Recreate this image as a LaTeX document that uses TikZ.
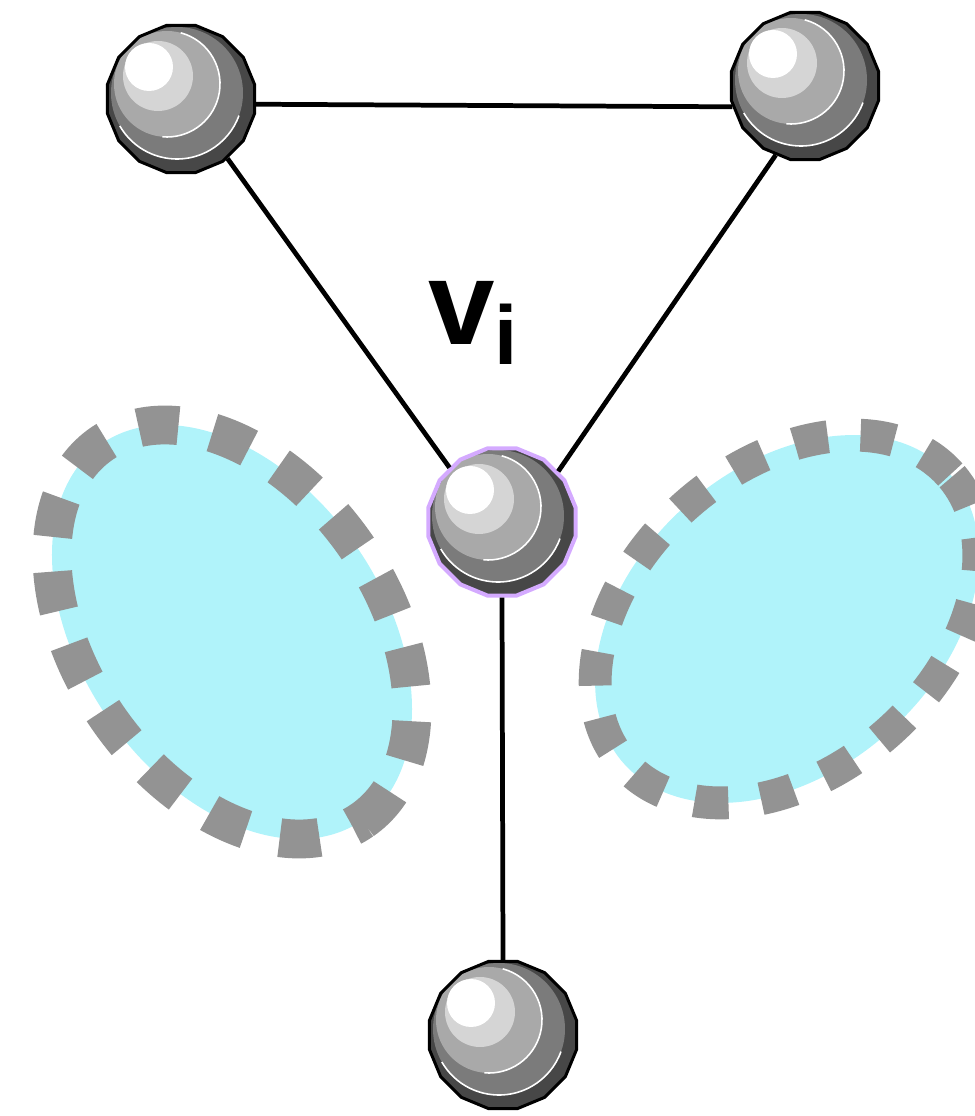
\documentclass[tikz,border=0pt]{standalone}
\usepackage{fontspec}
\setsansfont{Liberation Sans}
\usepackage{tikz}
\usetikzlibrary{shapes.geometric}

\definecolor{pocketfill}{RGB}{176,243,250}
\definecolor{pocketgray}{RGB}{147,147,147}
\definecolor{ringlilac}{RGB}{212,170,255}
\definecolor{shadeA}{RGB}{71,71,71}
\definecolor{shadeB}{RGB}{123,123,123}
\definecolor{shadeC}{RGB}{169,169,169}
\definecolor{shadeD}{RGB}{213,213,213}

\begin{document}
\begin{tikzpicture}[x=0.02cm, y=0.02cm]
        \tikzstyle{ball} = [regular polygon, regular polygon sides=16, minimum size=3cm, inner sep=0pt,
            draw=black, line width=1.7pt, fill=shadeA,
            path picture={
              \begin{scope}[shift={(path picture bounding box.center)}]
                \fill[shadeB] (-4,6) circle [radius=66];
                \draw[white, line width=0.9pt] ([shift={(-150:66)}]-4,6) arc [start angle=-150, end angle=-20, radius=66];
                \fill[shadeC] (-14,15) circle [radius=53];
                \draw[white, line width=0.9pt] ([shift={(75:53)}]-14,15) arc [start angle=75, end angle=-95, radius=53];
                \fill[shadeD] (-23,23) circle [radius=35];
                \fill[white] (-32,32) circle [radius=24];
              \end{scope}
            }]
        \tikzstyle{pocket} = [fill=pocketfill, draw=pocketgray, line cap=butt]
        \tikzstyle{edge} = [line width=2.7pt]
        \useasboundingbox (0,0) rectangle (974,1116);
        % the two pockets
        \draw[pocket, line width=22.1pt, dash pattern=on 22.7pt off 19.8pt, rotate around={-55.3:(232,484)}] (232,484) ellipse [x radius=229, y radius=151];
        \draw[pocket, line width=18.7pt, dash pattern=on 19.3pt off 18.7pt, rotate around={41.5:(787,497)}] (787,497) ellipse [x radius=218, y radius=152];
        % balls
        \node[ball] (tl) at (181,1017) {};
        \node[ball] (tr) at (805,1030) {};
        \node[ball, draw=ringlilac, line width=2.3pt] (vi) at (502,594) {};
        \node[ball] (bt) at (503,81) {};
        \node[anchor=base west, inner sep=0pt, font=\sffamily\bfseries\fontsize{68}{68}\selectfont] (lbl) at (428,771)
            {v\raisebox{-11.3pt}{\fontsize{47.5}{47.5}\selectfont i}};
        \draw[edge] (tl.-4.6) -- (tr.-164);
        \draw[edge] (tl.-52.6) -- (vi.134);
        \draw[edge] (tr.-113.5) -- (vi.42.8);
        \draw[edge] (vi.-90) -- (bt.90);
      \end{tikzpicture}
\end{document}
